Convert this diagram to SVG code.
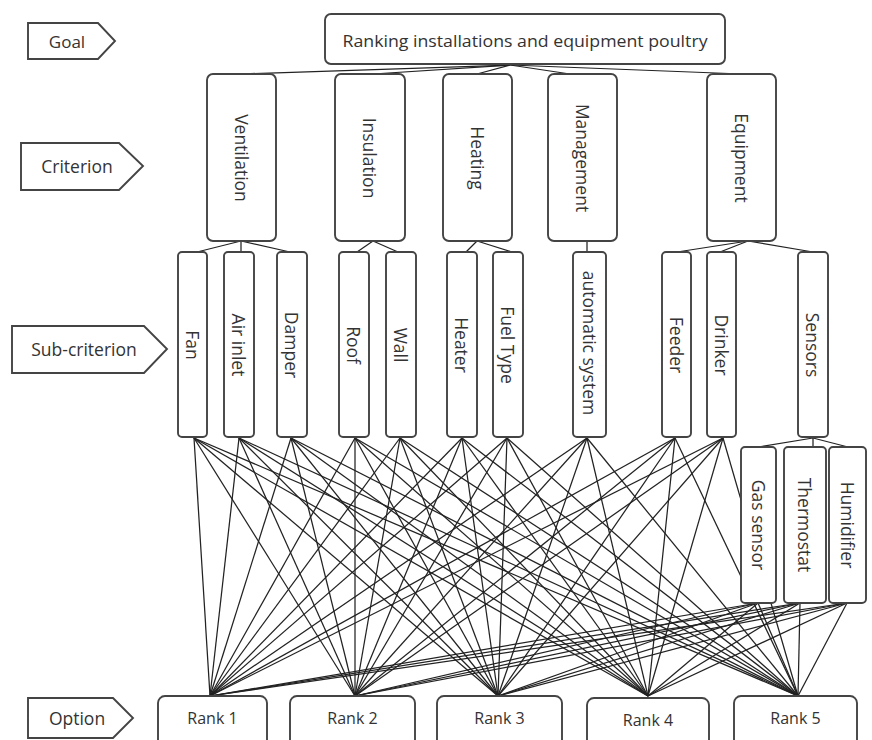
<svg xmlns="http://www.w3.org/2000/svg" width="872" height="740" viewBox="0 0 872 740">
<style>
.box{fill:#fff;stroke:#444;stroke-width:1.9}
.lbl{fill:#fff;stroke:#444;stroke-width:1.9}
.t{font-family:"Open Sans","Liberation Sans",sans-serif;fill:#333;text-anchor:middle;dominant-baseline:central}
.c{font-size:17.5px}
.s{font-size:17.5px}
.r{font-size:16px}
.conn line{stroke:#222;stroke-width:1.25}
</style>
<rect width="872" height="740" fill="#fff"/>

<!-- level labels -->
<g id="label-goal"><polygon class="lbl" points="28,23 98,23 115,41 98,59 28,59"/><text class="t" font-size="17" x="67" y="41">Goal</text></g>
<g id="label-criterion"><polygon class="lbl" points="21,143 119,143 143,166 119,190 21,190"/><text class="t c" x="77" y="166">Criterion</text></g>
<g id="label-subcriterion"><polygon class="lbl" points="12,326 144,326 167,349 144,373 12,373"/><text class="t c" x="84" y="349">Sub-criterion</text></g>
<g id="label-option"><polygon class="lbl" points="28,698 113,698 133,718 113,738 28,738"/><text class="t c" x="77" y="718">Option</text></g>

<!-- connectors -->
<g id="connectors" class="conn">
<!-- goal to criteria -->
<line x1="510" y1="65" x2="240" y2="74"/>
<line x1="510" y1="65" x2="373" y2="74"/>
<line x1="510" y1="65" x2="477" y2="74"/>
<line x1="510" y1="65" x2="570" y2="74"/>
<line x1="510" y1="65" x2="742" y2="74"/>
<!-- criteria to sub-criteria -->
<line x1="241" y1="241" x2="197" y2="252"/>
<line x1="241" y1="241" x2="241" y2="252"/>
<line x1="241" y1="241" x2="290" y2="252"/>
<line x1="373" y1="241" x2="357" y2="252"/>
<line x1="373" y1="241" x2="398" y2="252"/>
<line x1="477" y1="241" x2="466" y2="252"/>
<line x1="477" y1="241" x2="512" y2="252"/>
<line x1="587" y1="241" x2="587" y2="252"/>
<line x1="748" y1="241" x2="677" y2="252"/>
<line x1="748" y1="241" x2="720" y2="252"/>
<line x1="748" y1="241" x2="813" y2="252"/>
<!-- sensors to sub-sub -->
<line x1="813" y1="438" x2="758" y2="447"/>
<line x1="813" y1="438" x2="813" y2="447"/>
<line x1="813" y1="438" x2="848" y2="447"/>
<!-- leaves to ranks -->
<line x1="194" y1="438" x2="210" y2="696"/><line x1="194" y1="438" x2="355" y2="696"/><line x1="194" y1="438" x2="498" y2="696"/><line x1="194" y1="438" x2="648" y2="696"/><line x1="194" y1="438" x2="798" y2="696"/>
<line x1="239" y1="438" x2="210" y2="696"/><line x1="239" y1="438" x2="355" y2="696"/><line x1="239" y1="438" x2="498" y2="696"/><line x1="239" y1="438" x2="648" y2="696"/><line x1="239" y1="438" x2="798" y2="696"/>
<line x1="291" y1="438" x2="210" y2="696"/><line x1="291" y1="438" x2="355" y2="696"/><line x1="291" y1="438" x2="498" y2="696"/><line x1="291" y1="438" x2="648" y2="696"/><line x1="291" y1="438" x2="798" y2="696"/>
<line x1="355" y1="438" x2="210" y2="696"/><line x1="355" y1="438" x2="355" y2="696"/><line x1="355" y1="438" x2="498" y2="696"/><line x1="355" y1="438" x2="648" y2="696"/><line x1="355" y1="438" x2="798" y2="696"/>
<line x1="400" y1="438" x2="210" y2="696"/><line x1="400" y1="438" x2="355" y2="696"/><line x1="400" y1="438" x2="498" y2="696"/><line x1="400" y1="438" x2="648" y2="696"/><line x1="400" y1="438" x2="798" y2="696"/>
<line x1="462" y1="438" x2="210" y2="696"/><line x1="462" y1="438" x2="355" y2="696"/><line x1="462" y1="438" x2="498" y2="696"/><line x1="462" y1="438" x2="648" y2="696"/><line x1="462" y1="438" x2="798" y2="696"/>
<line x1="507" y1="438" x2="210" y2="696"/><line x1="507" y1="438" x2="355" y2="696"/><line x1="507" y1="438" x2="498" y2="696"/><line x1="507" y1="438" x2="648" y2="696"/><line x1="507" y1="438" x2="798" y2="696"/>
<line x1="587" y1="438" x2="210" y2="696"/><line x1="587" y1="438" x2="355" y2="696"/><line x1="587" y1="438" x2="498" y2="696"/><line x1="587" y1="438" x2="648" y2="696"/><line x1="587" y1="438" x2="798" y2="696"/>
<line x1="675" y1="438" x2="210" y2="696"/><line x1="675" y1="438" x2="355" y2="696"/><line x1="675" y1="438" x2="498" y2="696"/><line x1="675" y1="438" x2="648" y2="696"/><line x1="675" y1="438" x2="798" y2="696"/>
<line x1="723" y1="438" x2="210" y2="696"/><line x1="723" y1="438" x2="355" y2="696"/><line x1="723" y1="438" x2="498" y2="696"/><line x1="723" y1="438" x2="648" y2="696"/><line x1="723" y1="438" x2="798" y2="696"/>
<line x1="758" y1="603" x2="210" y2="696"/><line x1="758" y1="603" x2="355" y2="696"/><line x1="758" y1="603" x2="498" y2="696"/><line x1="758" y1="603" x2="648" y2="696"/><line x1="758" y1="603" x2="798" y2="696"/>
<line x1="800" y1="603" x2="210" y2="696"/><line x1="800" y1="603" x2="355" y2="696"/><line x1="800" y1="603" x2="498" y2="696"/><line x1="800" y1="603" x2="648" y2="696"/><line x1="800" y1="603" x2="798" y2="696"/>
<line x1="847" y1="603" x2="210" y2="696"/><line x1="847" y1="603" x2="355" y2="696"/><line x1="847" y1="603" x2="498" y2="696"/><line x1="847" y1="603" x2="648" y2="696"/><line x1="847" y1="603" x2="798" y2="696"/>
</g>

<!-- goal -->
<g id="goal"><rect class="box" x="325" y="14" width="400" height="50" rx="6"/><text class="t" x="525" y="40" font-size="17" textLength="365" lengthAdjust="spacingAndGlyphs">Ranking installations and equipment poultry</text></g>

<!-- criteria -->
<g id="ventilation"><rect class="box" x="207" y="74" width="69" height="167" rx="6"/><text class="t c" transform="rotate(90 241.5 158)" x="241.5" y="158">Ventilation</text></g>
<g id="insulation"><rect class="box" x="335" y="74" width="70" height="167" rx="6"/><text class="t c" transform="rotate(90 370 158)" x="370" y="158">Insulation</text></g>
<g id="heating"><rect class="box" x="443" y="74" width="69" height="167" rx="6"/><text class="t c" transform="rotate(90 477.5 158)" x="477.5" y="158">Heating</text></g>
<g id="management"><rect class="box" x="548" y="74" width="69" height="167" rx="6"/><text class="t c" transform="rotate(90 582.5 158)" x="582.5" y="158">Management</text></g>
<g id="equipment"><rect class="box" x="707" y="74" width="69" height="167" rx="6"/><text class="t c" transform="rotate(90 741.5 158)" x="741.5" y="158">Equipment</text></g>

<!-- sub-criteria -->
<g id="fan"><rect class="box" x="178" y="252" width="29" height="185" rx="4"/><text class="t s" transform="rotate(90 192.5 345)" x="192.5" y="345">Fan</text></g>
<g id="air-inlet"><rect class="box" x="224" y="252" width="30" height="185" rx="4"/><text class="t s" transform="rotate(90 239 345)" x="239" y="345">Air inlet</text></g>
<g id="damper"><rect class="box" x="277" y="252" width="30" height="185" rx="4"/><text class="t s" transform="rotate(90 292 345)" x="292" y="345">Damper</text></g>
<g id="roof"><rect class="box" x="339" y="252" width="30" height="185" rx="4"/><text class="t s" transform="rotate(90 354 345)" x="354" y="345">Roof</text></g>
<g id="wall"><rect class="box" x="386" y="252" width="30" height="185" rx="4"/><text class="t s" transform="rotate(90 401 345)" x="401" y="345">Wall</text></g>
<g id="heater"><rect class="box" x="447" y="252" width="30" height="185" rx="4"/><text class="t s" transform="rotate(90 462 345)" x="462" y="345">Heater</text></g>
<g id="fuel-type"><rect class="box" x="493" y="252" width="30" height="185" rx="4"/><text class="t s" transform="rotate(90 508 345)" x="508" y="345">Fuel Type</text></g>
<g id="automatic-system"><rect class="box" x="573" y="252" width="33" height="185" rx="4"/><text class="t s" transform="rotate(90 589.5 343)" x="589.5" y="343">automatic system</text></g>
<g id="feeder"><rect class="box" x="662" y="252" width="29" height="185" rx="4"/><text class="t s" transform="rotate(90 676.5 345)" x="676.5" y="345">Feeder</text></g>
<g id="drinker"><rect class="box" x="707" y="252" width="29" height="185" rx="4"/><text class="t s" transform="rotate(90 721.5 345)" x="721.5" y="345">Drinker</text></g>
<g id="sensors"><rect class="box" x="798" y="252" width="30" height="185" rx="4"/><text class="t s" transform="rotate(90 813 345)" x="813" y="345">Sensors</text></g>

<!-- sensor sub-items -->
<g id="gas-sensor"><rect class="box" x="741" y="447" width="35" height="156" rx="4"/><text class="t s" transform="rotate(90 758.5 525)" x="758.5" y="525">Gas sensor</text></g>
<g id="thermostat"><rect class="box" x="784" y="447" width="42" height="156" rx="4"/><text class="t s" transform="rotate(90 805 525)" x="805" y="525">Thermostat</text></g>
<g id="humidifier"><rect class="box" x="829" y="447" width="37" height="156" rx="4"/><text class="t s" transform="rotate(90 847.5 525)" x="847.5" y="525">Humidifier</text></g>

<!-- options -->
<g id="rank-1"><rect class="box" x="158" y="696" width="109" height="60" rx="7"/><text class="t r" x="212.5" y="718">Rank 1</text></g>
<g id="rank-2"><rect class="box" x="290" y="696" width="125" height="60" rx="7"/><text class="t r" x="352.5" y="718">Rank 2</text></g>
<g id="rank-3"><rect class="box" x="437" y="696" width="125" height="60" rx="7"/><text class="t r" x="499.5" y="718">Rank 3</text></g>
<g id="rank-4"><rect class="box" x="587" y="698" width="122" height="60" rx="7"/><text class="t r" x="648" y="720">Rank 4</text></g>
<g id="rank-5"><rect class="box" x="734" y="696" width="123" height="60" rx="7"/><text class="t r" x="795.5" y="718">Rank 5</text></g>
</svg>
